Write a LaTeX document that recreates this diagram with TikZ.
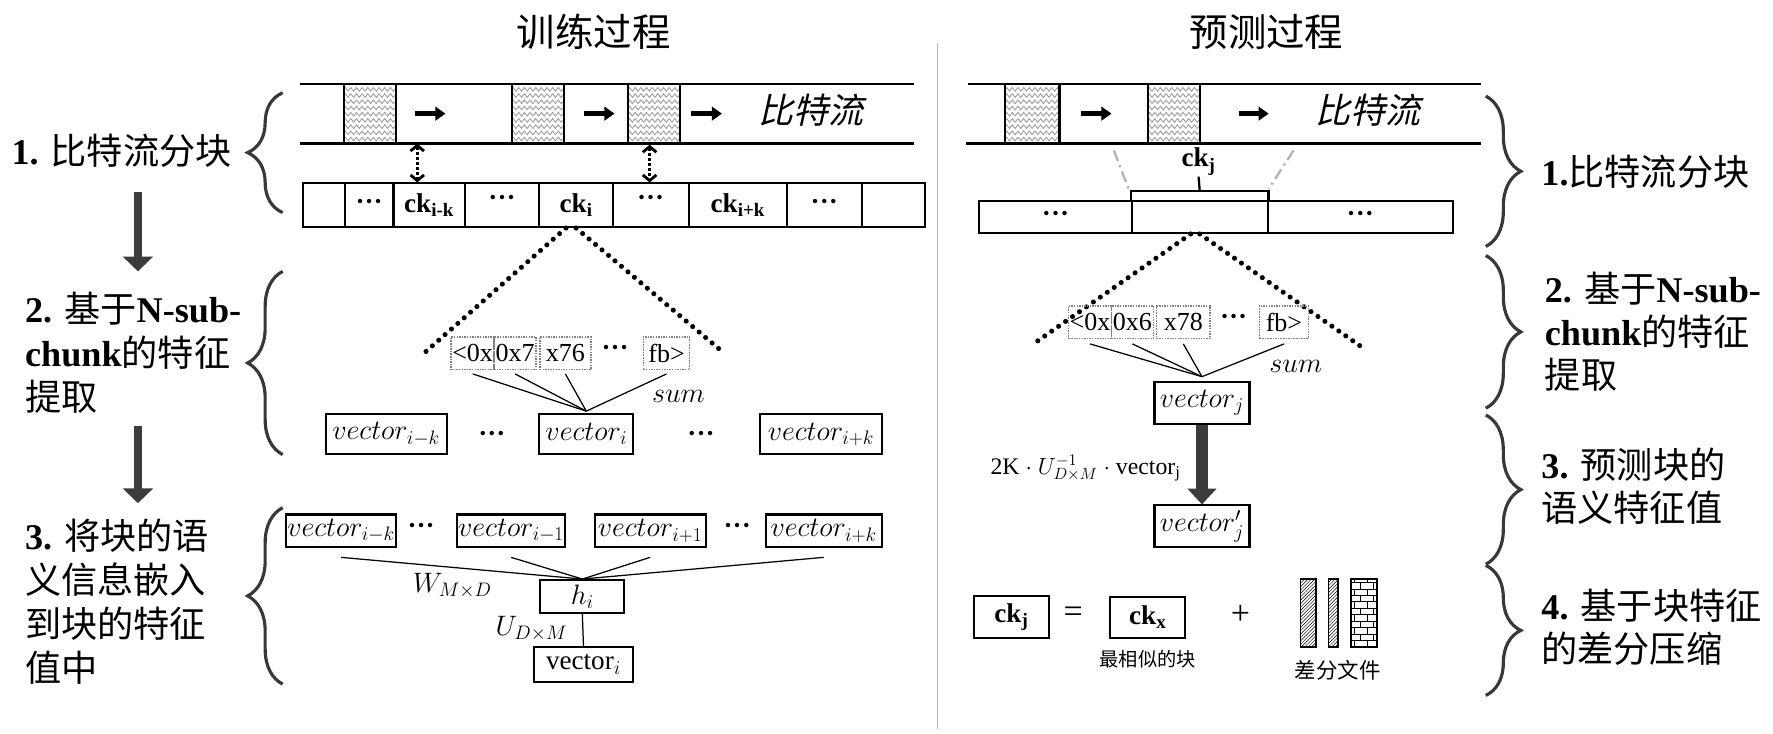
\documentclass[tikz,border=0pt]{standalone}
\usepackage{fontspec}
\setmainfont{Liberation Serif}
\newfontfamily\cjk{Noto Sans CJK SC}
\newfontfamily\cjkit[FakeSlant=0.22]{Noto Sans CJK SC}
\usetikzlibrary{arrows.meta,decorations.pathreplacing,decorations.pathmorphing,patterns}
\definecolor{arrgray}{HTML}{3C3C3C}
\definecolor{bracegray}{HTML}{383838}

\begin{document}
\begin{tikzpicture}[x=1pt,y=-1pt]
\useasboundingbox (0,0) rectangle (1568,649);

\tikzstyle{lab}=[anchor=west,align=left,inner sep=0pt,font=\fontsize{32}{39}\selectfont]
\tikzstyle{title}=[font=\cjk\fontsize{34}{40}\selectfont]
\tikzstyle{ck}=[font=\bfseries\fontsize{24}{28}\selectfont]
\tikzstyle{cell}=[rectangle,draw,line width=1.8pt,inner sep=0pt,minimum height=38.5pt,ck]
\tikzstyle{wavy}=[rectangle,draw,fill=white,line width=2pt,inner sep=0pt,minimum width=46pt,minimum height=53pt,
  path picture={\foreach \k in {1,...,9} \draw[gray!75,line width=0.8pt,decorate,decoration={zigzag,segment length=5pt,amplitude=1.6pt}]
  ([yshift=-\k*5.5pt+0.5pt]path picture bounding box.north west) -- ([yshift=-\k*5.5pt+0.5pt]path picture bounding box.north east);}]
\tikzstyle{hex}=[rectangle,draw=gray,densely dotted,line width=1.3pt,inner sep=0pt,minimum height=29pt,font=\fontsize{23}{26}\selectfont]
\tikzstyle{vbox}=[rectangle,draw,line width=1.8pt,inner sep=0pt,minimum height=29pt,font=\fontsize{24}{28}\selectfont]
\tikzstyle{dotline}=[line width=4.5pt,dash pattern=on 0pt off 7.5pt,line cap=round]
\tikzstyle{bigbrace}=[decorate,decoration={brace,amplitude=31pt},line width=2.8pt,bracegray]
\tikzstyle{downarr}=[line width=7pt,arrgray,-{Triangle[length=13pt,width=26pt]}]
\tikzstyle{flow}=[line width=5pt,-{Triangle[length=9pt,width=12pt]}]
\tikzstyle{link}=[line width=1.1pt]
\tikzstyle{dblarr}=[line width=2.5pt,dash pattern=on 2.5pt off 2pt,<->,>={Straight Barb[length=5pt,width=12pt]}]
\tikzstyle{txt}=[font=\fontsize{24}{28}\selectfont]
\tikzstyle{dd}=[font=\bfseries\fontsize{24}{28}\selectfont]

% titles
\node[title] (t1) at (525,28) {训练过程};
\node[title] (t2) at (1120,28) {预测过程};
\draw[gray!60,line width=1.5pt] (829,38) -- (829,645);

% left steps
\node[lab] (l1) at (10,133) {\textbf{1.} {\cjk 比特流分块}};
\node[lab] (l2) at (22,312) {\textbf{2.} {\cjk 基于}\textbf{N-sub-}\\\textbf{chunk}{\cjk 的特征}\\{\cjk 提取}};
\node[lab] (l3) at (22,532) {\textbf{3.} {\cjk 将块的语}\\{\cjk 义信息嵌入}\\{\cjk 到块的特征}\\{\cjk 值中}};
\coordinate (a1) at (122,170); \coordinate (a2) at (122,240);
\draw[downarr] (a1) -- (a2);
\coordinate (a3) at (122,377); \coordinate (a4) at (122,445);
\draw[downarr] (a3) -- (a4);

\draw[bigbrace] (250,188) -- (250,82);
\draw[bigbrace] (250,402) -- (250,240);
\draw[bigbrace] (250,605) -- (250,449);

% training: bit stream
\draw[line width=2pt] (265,74) -- (808,74);
\draw[line width=2pt] (265,127) -- (808,127);
\node[wavy] (b1) at (327,100.5) {};
\node[wavy] (b2) at (475.5,100.5) {};
\node[wavy] (b3) at (578.5,100.5) {};
\draw[flow] ([xshift=16pt]b1.east) -- ++(27,0);
\draw[flow] ([xshift=17pt]b2.east) -- ++(27,0);
\draw[flow] ([xshift=9pt]b3.east) -- ++(27,0);
\node[font=\cjkit\fontsize{31}{36}\selectfont] (bs1) at (717,97) {比特流};

% training: chunks
\node[cell,minimum width=37pt] (c1) at (286.5,181.5) {};
\node[cell,minimum width=43pt] (c2) at (326.5,181.5) {···};
\node[cell,minimum width=63pt] (c3) at (379.5,181.5) {ck\textsubscript{i-k}};
\node[cell,minimum width=66pt] (c4) at (444,181.5) {\raisebox{7pt}{···}};
\node[cell,minimum width=65pt] (c5) at (509.5,181.5) {ck\textsubscript{i}};
\node[cell,minimum width=67pt] (c6) at (575.5,181.5) {\raisebox{7pt}{···}};
\node[cell,minimum width=87pt] (c7) at (652.5,181.5) {ck\textsubscript{i+k}};
\node[cell,minimum width=66pt] (c8) at (729,181.5) {···};
\node[cell,minimum width=56pt] (c9) at (790,181.5) {};
\coordinate (s1) at (369,127);
\draw[dblarr] (s1) -- (s1 |- c3.north);
\draw[dblarr] ([xshift=-4pt]b3.south) -- ([xshift=-4pt]b3.south |- c6.north);

% training: sub-chunk features
\coordinate (tl) at (372,315); \coordinate (tr) at (640,312);
\draw[dotline] ([xshift=-9pt]c5.south) -- (tl);
\draw[dotline] (c5.south) -- (tr);
\node[hex,minimum width=38pt] (hx1) at (418,312.5) {<0x};
\node[hex,minimum width=37pt] (hx2) at (455.5,312.5) {0x7};
\node[hex,minimum width=45pt] (hx3) at (500,312.5) {x76};
\node[dd] (hxd) at (544,310) {···};
\node[hex,minimum width=41pt] (hx4) at (589.5,312.5) {fb>};
\node[vbox,minimum width=107pt,minimum height=35pt] (v1) at (341.5,384) {$vector_{i-k}$};
\node[dd] (vd1) at (435,386) {···};
\node[vbox,minimum width=83pt,minimum height=35pt] (vi) at (518.5,384) {$vector_{i}$};
\node[dd] (vd2) at (620,386) {···};
\node[vbox,minimum width=108pt,minimum height=35pt] (v2) at (726,384) {$vector_{i+k}$};
\node[txt] (sm1) at (600,351) {$sum$};
\foreach \h in {hx1,hx2,hx3,hx4} \draw[link] ([yshift=-3pt]\h.south) -- ([yshift=2pt]vi.north);

% training: embedding
\node[vbox,minimum width=98pt] (e1) at (301.6,469.5) {$vector_{i-k}$};
\node[dd] (ed1) at (372.5,468) {···};
\node[vbox,minimum width=96pt] (e2) at (452,469.5) {$vector_{i-1}$};
\node[vbox,minimum width=98pt] (e3) at (575,469.5) {$vector_{i+1}$};
\node[dd] (ed2) at (652,468) {···};
\node[vbox,minimum width=103pt] (e4) at (728.5,469.5) {$vector_{i+k}$};
\node[vbox,minimum width=74.5pt] (hi) at (515,527.5) {$h_i$};
\foreach \e in {e1,e2,e3,e4} \draw[link] ([yshift=-8pt]\e.south) -- (hi.north);
\node[txt] (wmd) at (400,518) {$W_{M\times D}$};
\node[vbox,minimum width=88pt,minimum height=31pt] (vb) at (516,587.5) {vector$_i$};
\draw[link] (hi.south) -- (vb.north);
\node[txt] (udm) at (470,556) {$U_{D\times M}$};

% prediction: bit stream
\draw[line width=2pt] (856,74) -- (1310,74);
\draw[line width=2pt] (854,127) -- (1310,127);
\node[wavy,minimum width=48pt] (b4) at (913,100.5) {};
\node[wavy] (b5) at (1038,100.5) {};
\draw[flow] ([xshift=18pt]b4.east) -- ++(27,0);
\draw[flow] ([xshift=34pt]b5.east) -- ++(26,0);
\node[font=\cjkit\fontsize{31}{36}\selectfont] (bs2) at (1210,97) {比特流};

\node[cell,minimum width=135pt,minimum height=28pt] (r1) at (933.5,192) {···};
\node[cell,minimum width=120pt,minimum height=28pt] (r2) at (1061,192) {};
\node[cell,minimum width=164pt,minimum height=28pt] (r3) at (1203,192) {···};
\draw[line width=2pt] (r2.north west) -- ++(0,-8) -- ([yshift=8pt]r2.north east) -- (r2.north east);
\node[ck,inner sep=1pt] (ckj) at (1060,143) {ck\textsubscript{j}};
\draw[line width=2pt] (ckj.south) -- ([yshift=8pt]r2.north);
\draw[gray!60,line width=2pt,dash pattern=on 10pt off 4pt on 2pt off 4pt] (985,133) -- ([xshift=-2pt,yshift=10pt]r2.north west);
\draw[gray!60,line width=2pt,dash pattern=on 10pt off 4pt on 2pt off 4pt] (1144,133) -- ([yshift=10pt]r2.north east);

% prediction: features
\coordinate (ul) at (917,302); \coordinate (ur) at (1203,306);
\draw[dotline] ([xshift=-8pt]r2.south) -- (ul);
\draw[dotline] (r2.south) -- (ur);
\node[hex,minimum width=38pt] (hy1) at (964,285) {<0x};
\node[hex,minimum width=37pt] (hy2) at (1001.5,285) {0x6};
\node[hex,minimum width=47pt] (hy3) at (1046.5,285) {x78};
\node[dd] (hyd) at (1091,283) {···};
\node[hex,minimum width=43pt] (hy4) at (1135.5,285) {fb>};
\node[vbox,minimum width=84pt,minimum height=37pt] (vj) at (1063,356.5) {$vector_j$};
\foreach \h in {hy1,hy2,hy3,hy4} \draw[link] ([yshift=-4pt]\h.south) -- ([yshift=4pt]vj.north);
\node[txt] (sm2) at (1146,324) {$sum$};
\node[vbox,minimum width=84pt,minimum height=37pt] (vpj) at (1063,465.5) {$vector'_j$};
\draw[line width=10pt,arrgray,-{Triangle[length=14pt,width=25pt]}] (vj.south) -- (vpj.north);
\node[font=\fontsize{21}{24}\selectfont] (eq) at (960,414) {2K $\cdot$ $U_{D\times M}^{-1}$ $\cdot$ vector$_\mathrm{j}$};

% prediction: delta compression
\node[cell,minimum width=67pt,minimum height=37pt] (ckj2) at (894.5,546) {ck\textsubscript{j}};
\node[font=\fontsize{30}{32}\selectfont] (eqs) at (949,544) {=};
\node[cell,minimum width=66pt,minimum height=36pt] (ckx) at (1015,546) {\raisebox{4pt}{ck\textsubscript{x}}};
\node[font=\fontsize{30}{32}\selectfont] (pls) at (1097,544) {+};
\node[font=\cjk\fontsize{17}{20}\selectfont] (sim) at (1015,583) {最相似的块};
\node[draw,line width=1.5pt,pattern=north east lines,minimum width=14pt,minimum height=60pt,inner sep=0pt] (f1) at (1157,542) {};
\node[draw,line width=1.5pt,pattern=north east lines,minimum width=8pt,minimum height=60pt,inner sep=0pt] (f2) at (1179,542) {};
\node[draw,line width=1.5pt,pattern=bricks,minimum width=23pt,minimum height=60pt,inner sep=0pt] (f3) at (1206.5,542) {};
\node[font=\cjk\fontsize{19}{22}\selectfont] (dif) at (1183,593) {差分文件};

% right steps
\draw[bigbrace] (1314,85) -- (1314,218);
\draw[bigbrace] (1314,226) -- (1314,361);
\draw[bigbrace] (1314,367) -- (1314,499);
\draw[bigbrace] (1314,500) -- (1314,615);
\node[lab] (m1) at (1363,152) {\textbf{1.}{\cjk 比特流分块}};
\node[lab,font=\fontsize{32}{38}\selectfont] (m2) at (1366,293) {\textbf{2.} {\cjk 基于}\textbf{N-sub-}\\\textbf{chunk}{\cjk 的特征}\\{\cjk 提取}};
\node[lab,font=\fontsize{32}{38}\selectfont] (m3) at (1363,430) {\textbf{3.} {\cjk 预测块的}\\{\cjk 语义特征值}};
\node[lab,font=\fontsize{32}{38}\selectfont] (m4) at (1363,555) {\textbf{4.} {\cjk 基于块特征}\\{\cjk 的差分压缩}};

\end{tikzpicture}
\end{document}
